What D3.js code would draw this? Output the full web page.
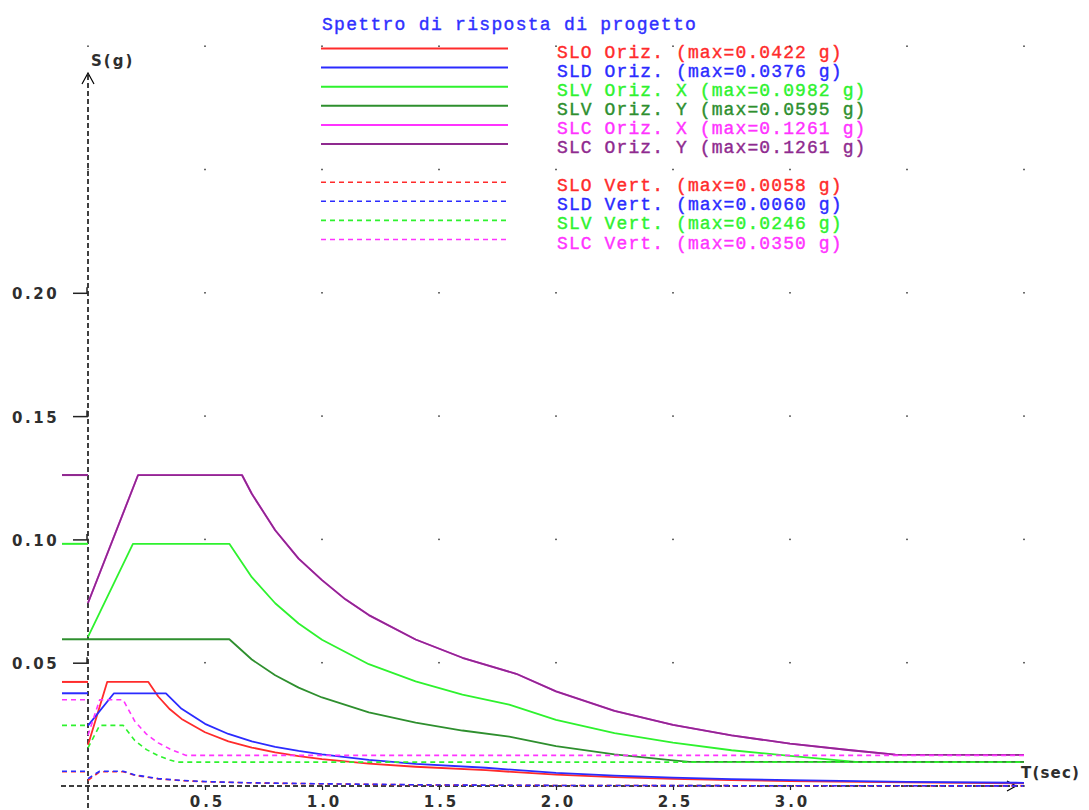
<!DOCTYPE html>
<html>
<head>
<meta charset="utf-8">
<script src="https://cdn.jsdelivr.net/npm/d3@7"></script>
<style>
  html, body { margin: 0; padding: 0; background: #fff; }
  svg { display: block; }
</style>
</head>
<body>
<svg id="chart" width="1089" height="810"></svg>
<script>
// Spectrum curves: [T (sec), S (g)]
const sloOriz = [[0,0.0166],[0.082,0.0422],[0.258,0.0422],[0.30,0.0363],[0.35,0.0311],[0.40,0.0272],[0.50,0.0218],[0.60,0.0181],[0.70,0.0156],[0.80,0.0136],[0.90,0.0121],[1.00,0.0109],[1.20,0.0091],[1.40,0.0078],[1.70,0.0064],[2.00,0.0046],[2.25,0.0036],[2.50,0.0029],[2.75,0.0024],[3.00,0.0020],[3.50,0.0015],[4.00,0.0011]];
const sldOriz = [[0,0.0245],[0.111,0.0376],[0.333,0.0376],[0.40,0.0313],[0.50,0.0252],[0.60,0.0211],[0.70,0.0181],[0.80,0.0159],[0.90,0.0142],[1.00,0.0128],[1.20,0.0106],[1.40,0.0090],[1.70,0.0074],[2.00,0.0053],[2.25,0.0042],[2.50,0.0034],[2.75,0.0028],[3.00,0.0024],[3.50,0.0017],[4.00,0.0013]];
const slvOrizX = [[0,0.0605],[0.192,0.0982],[0.604,0.0982],[0.70,0.0847],[0.80,0.0741],[0.90,0.0659],[1.00,0.0593],[1.20,0.0494],[1.40,0.0424],[1.60,0.0371],[1.80,0.0330],[2.00,0.0268],[2.25,0.0214],[2.50,0.0176],[2.75,0.0145],[3.00,0.0122],[3.28,0.0098],[4.00,0.0098]];
const slvOrizY = [[0,0.0595],[0.604,0.0595],[0.70,0.0513],[0.80,0.0449],[0.90,0.0399],[1.00,0.0359],[1.20,0.0299],[1.40,0.0257],[1.60,0.0225],[1.80,0.0200],[2.00,0.0162],[2.25,0.0128],[2.50,0.0104],[2.57,0.0098],[4.00,0.0098]];
const slcOrizX = [[0,0.0742],[0.214,0.1261],[0.658,0.1261],[0.70,0.1185],[0.80,0.1037],[0.90,0.0922],[1.00,0.0835],[1.10,0.0757],[1.20,0.0693],[1.40,0.0594],[1.60,0.0520],[1.83,0.0455],[2.00,0.0384],[2.25,0.0305],[2.50,0.0248],[2.75,0.0205],[3.00,0.0172],[3.25,0.0146],[3.45,0.0127],[4.00,0.0126]];
const slcOrizY = [[0,0.0742],[0.214,0.1261],[0.658,0.1261],[0.70,0.1185],[0.80,0.1037],[0.90,0.0922],[1.00,0.0835],[1.10,0.0757],[1.20,0.0693],[1.40,0.0594],[1.60,0.0520],[1.83,0.0455],[2.00,0.0384],[2.25,0.0305],[2.50,0.0248],[2.75,0.0205],[3.00,0.0172],[3.25,0.0146],[3.45,0.0127],[4.00,0.0126]];
const sloVert = [[0,0.0023],[0.05,0.0058],[0.15,0.0058],[0.20,0.00435],[0.30,0.0029],[0.40,0.00218],[0.50,0.00174],[0.70,0.00124],[1.00,0.00087],[1.50,0.00039],[2.00,0.00022],[3.00,0.0001],[4.00,0.00005]];
const sldVert = [[0,0.0030],[0.05,0.0060],[0.15,0.0060],[0.20,0.0045],[0.30,0.0030],[0.40,0.00225],[0.50,0.0018],[0.70,0.00129],[1.00,0.0009],[1.50,0.0004],[2.00,0.000225],[3.00,0.0001],[4.00,0.000056]];
const slvVert = [[0,0.0155],[0.05,0.0246],[0.15,0.0246],[0.20,0.01845],[0.25,0.01476],[0.30,0.0123],[0.35,0.01054],[0.38,0.0097],[4.00,0.0097]];
const slcVert = [[0,0.0206],[0.05,0.0350],[0.15,0.0350],[0.20,0.02625],[0.25,0.0210],[0.30,0.0175],[0.35,0.0150],[0.40,0.0131],[0.42,0.0124],[4.00,0.0124]];

const seriesNames = ["SLO Oriz.", "SLD Oriz.", "SLV Oriz. X", "SLV Oriz. Y", "SLC Oriz. X", "SLC Oriz. Y",
                     "SLO Vert.", "SLD Vert.", "SLV Vert.", "SLC Vert."];
const seriesData = [sloOriz, sldOriz, slvOrizX, slvOrizY, slcOrizX, slcOrizY, sloVert, sldVert, slvVert, slcVert];
const seriesColors = ["#ff2b2b", "#2b2bff", "#2ef22e", "#2e8f2e", "#ff33ff", "#8f2a8f",
                      "#ff2b2b", "#2b2bff", "#2ef22e", "#ff33ff"];
const seriesDashed = [false, false, false, false, false, false, true, true, true, true];

const xTicks = [0.5, 1.0, 1.5, 2.0, 2.5, 3.0];
const yTicks = [0.05, 0.10, 0.15, 0.20];
const gridT = [0, 0.5, 1.0, 1.5, 2.0, 2.5, 3.0, 3.5, 4.0];
const gridS = [0, 0.05, 0.10, 0.15, 0.20, 0.25, 0.30];

const titleText = "Spettro di risposta di progetto";

const svg = d3.select("#chart");
const x = d3.scaleLinear().domain([0, 4]).range([88, 1024]);
const y = d3.scaleLinear().domain([0, 0.3]).range([786, 46.2]);
const fmt = d3.format(".4f");

const series = seriesNames.map((name, i) => ({
  name, data: seriesData[i], color: seriesColors[i], dashed: seriesDashed[i],
  max: d3.max(seriesData[i], d => d[1])
}));

const tickFont = "'DejaVu Sans', Verdana, sans-serif";
const monoFont = "'Liberation Mono', 'Courier New', monospace";

// Axes (dashed lines with arrows)
const axes = svg.append("g").attr("stroke", "#000").attr("fill", "none");
axes.append("line").attr("x1", x(0)).attr("x2", x(0)).attr("y1", 75).attr("y2", 810)
  .attr("stroke-width", 1.5).attr("stroke-dasharray", "5,3");
axes.append("path").attr("d", `M${x(0)-6},84 L${x(0)},73 L${x(0)+6},84`).attr("stroke-width", 1.2);
axes.append("line").attr("x1", 61).attr("x2", 1022).attr("y1", y(0)).attr("y2", y(0))
  .attr("stroke-width", 1.5).attr("stroke-dasharray", "5,3");
axes.append("path").attr("d", `M1007,${y(0)-5} L1016,${y(0)} L1007,${y(0)+5}`).attr("stroke-width", 1.2);

// Y axis ticks and labels
const yAxis = svg.append("g").attr("transform", `translate(${x(0)},0)`)
  .call(d3.axisLeft(y).tickValues(yTicks).tickFormat(d3.format(".2f")).tickSize(15).tickSizeOuter(0));
yAxis.select(".domain").remove();
yAxis.selectAll(".tick line").attr("stroke", "#222").attr("stroke-width", 1.5);
yAxis.selectAll(".tick").append("path").attr("d", "M-1,0 V-6").attr("stroke", "#222").attr("stroke-width", 1.5);
yAxis.selectAll(".tick text")
  .attr("text-anchor", "start").attr("x", 12 - x(0)).attr("dy", 6)
  .attr("fill", "#2e2e2e").style("font-family", tickFont).style("font-size", "15px")
  .style("font-weight", "bold").style("letter-spacing", "2.6px");

// X axis ticks and labels
const xAxis = svg.append("g").attr("transform", `translate(0,${y(0)})`)
  .call(d3.axisBottom(x).tickValues(xTicks).tickFormat(d3.format(".1f")).tickSize(4).tickPadding(6).tickSizeOuter(0));
xAxis.select(".domain").remove();
xAxis.selectAll(".tick line").attr("stroke", "#222").attr("stroke-width", 1.2);
xAxis.selectAll(".tick text")
  .attr("dx", 2)
  .attr("fill", "#2e2e2e").style("font-family", tickFont).style("font-size", "15px")
  .style("font-weight", "bold").style("letter-spacing", "3px");

// Axis names
svg.append("text").attr("x", 91).attr("y", 66).text("S(g)")
  .attr("fill", "#2e2e2e").style("font-family", tickFont).style("font-size", "15px")
  .style("font-weight", "bold").style("letter-spacing", "2px");
svg.append("text").attr("x", 1021).attr("y", 778).text("T(sec)")
  .attr("fill", "#2e2e2e").style("font-family", tickFont).style("font-size", "15px")
  .style("font-weight", "bold").style("letter-spacing", "1.2px");

// Markers of each spectrum's maximum, left of the vertical axis
svg.append("g").selectAll("line").data(series).join("line")
  .attr("x1", 62).attr("x2", x(0))
  .attr("y1", d => y(d.max)).attr("y2", d => y(d.max))
  .attr("stroke", d => d.color).attr("stroke-width", d => d.dashed ? 1.6 : 2)
  .attr("stroke-dasharray", d => d.dashed ? "5,4" : null);

// Spectrum curves
const line = d3.line().x(d => x(d[0])).y(d => y(d[1]));
svg.append("g").attr("fill", "none").selectAll("path").data(series).join("path")
  .attr("d", d => line(d.data))
  .attr("stroke", d => d.color).attr("stroke-width", d => d.dashed ? 1.6 : 1.8)
  .attr("stroke-dasharray", d => d.dashed ? "5,4" : null)
  .attr("stroke-linejoin", "round");

// Title and legend
svg.append("text").attr("x", 322).attr("y", 30).text(titleText)
  .attr("fill", "#3030ff").style("font-family", monoFont).style("font-size", "18px")
  .style("font-weight", "normal").style("letter-spacing", "1.3px")
  .style("stroke", "#3030ff").style("stroke-width", "0.4px");

const legendRowY = i => 48.5 + 19.1 * (i < 6 ? i : i + 1);
const legend = svg.append("g").selectAll("g").data(series).join("g")
  .attr("transform", (d, i) => `translate(0,${legendRowY(i)})`);
legend.append("line").attr("x1", 321).attr("x2", 508).attr("y1", 0).attr("y2", 0)
  .attr("stroke", d => d.color).attr("stroke-width", d => d.dashed ? 1.6 : 2)
  .attr("stroke-dasharray", d => d.dashed ? "5,4" : null);
legend.append("text").attr("x", 557).attr("y", 9)
  .text(d => `${d.name} (max=${fmt(d.max)} g)`)
  .attr("fill", d => d.color).style("font-family", monoFont).style("font-size", "18px")
  .style("font-weight", "normal").style("letter-spacing", "1.1px")
  .style("stroke", d => d.color).style("stroke-width", "0.4px");

// Dotted background grid
const gridPts = gridT.flatMap(t => gridS.map(s => [t, s]));
svg.append("g").selectAll("rect").data(gridPts).join("rect")
  .attr("x", d => x(d[0]) - 0.75).attr("y", d => y(d[1]) - 0.75)
  .attr("width", 1.5).attr("height", 1.5).attr("fill", "#333");
</script>
</body>
</html>
